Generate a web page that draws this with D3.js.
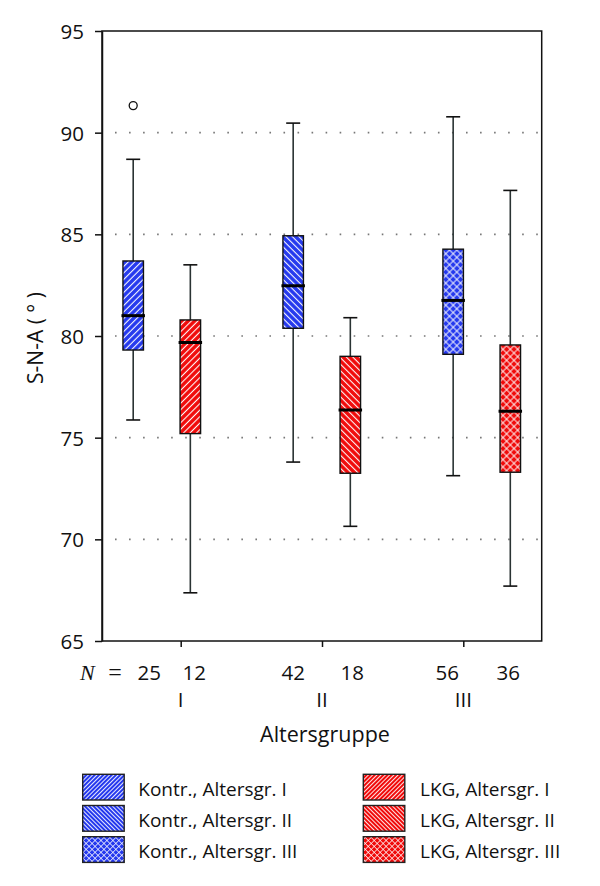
<!DOCTYPE html>
<html><head><meta charset="utf-8">
<script src="https://cdn.jsdelivr.net/npm/d3@7"></script>
<style>
body{margin:0;background:#fff}
text{font-family:"Open Sans",sans-serif;fill:#111}
</style>
</head><body>
<svg id="c" width="600" height="886"></svg>
<script>
// ---------- data ----------
const groups = ["I", "II", "III"];
const seriesNames = ["Kontr.", "LKG"];
const nKontr = [25, 42, 56];
const nLKG = [12, 18, 36];
const kontrMin = [75.87, 73.8, 73.13];
const kontrQ1 = [79.31, 80.38, 79.1];
const kontrMed = [81.0, 82.47, 81.75];
const kontrQ3 = [83.69, 84.93, 84.27];
const kontrMax = [88.69, 90.47, 90.78];
const lkgMin = [67.37, 70.64, 67.7];
const lkgQ1 = [75.2, 73.25, 73.3];
const lkgMed = [79.68, 76.36, 76.3];
const lkgQ3 = [80.79, 79.0, 79.56];
const lkgMax = [83.5, 80.9, 87.16];
const outlierSeries = ["Kontr."];
const outlierGroup = ["I"];
const outlierValue = [91.33];
const yTicks = [65, 70, 75, 80, 85, 90, 95];
const gridValues = [70, 75, 80, 85, 90];
const legendLabels = [
  ["Kontr., Altersgr. I", "Kontr., Altersgr. II", "Kontr., Altersgr. III"],
  ["LKG, Altersgr. I", "LKG, Altersgr. II", "LKG, Altersgr. III"]
];
const yTitle = "S-N-A ( \u00B0 )";
const xTitle = "Altersgruppe";

// ---------- layout ----------
const colors = {"Kontr.": "#2438ee", "LKG": "#f00a0a"};
const patternKinds = ["fwd", "back", "cross"];
const plot = {left: 102, right: 541.7, top: 31, bottom: 641};
const nLabelShift = [16, 4, 0, 2, -6, -2];

const svg = d3.select("#c");
const defs = svg.append("defs");

function makePattern(id, color, kind, sp, lw) {
  const p = defs.append("pattern").attr("id", id)
    .attr("patternUnits", "userSpaceOnUse")
    .attr("width", sp).attr("height", sp)
    .attr("patternTransform", kind === "back" ? "rotate(-45)" : "rotate(45)");
  p.append("rect").attr("width", sp).attr("height", sp).attr("fill", color);
  p.append("line").attr("x1", sp / 2).attr("x2", sp / 2).attr("y1", -1).attr("y2", sp + 1)
    .attr("stroke", "#fff").attr("stroke-width", lw);
  if (kind === "cross") {
    p.append("line").attr("y1", sp / 2).attr("y2", sp / 2).attr("x1", -1).attr("x2", sp + 1)
      .attr("stroke", "#fff").attr("stroke-width", lw);
  }
}
seriesNames.forEach((s, si) => patternKinds.forEach((k, gi) => {
  makePattern(`p${si}${gi}`, colors[s], k, k === "cross" ? 5.2 : 4.6, k === "cross" ? 0.9 : 1.1);
  makePattern(`l${si}${gi}`, colors[s], k, k === "cross" ? 4.2 : 3.0, k === "cross" ? 0.7 : 0.9);
}));

// scales
const y = d3.scaleLinear().domain([65, 95]).range([plot.bottom, plot.top]);
const xSlot = d3.scaleLinear().domain([0, 6.6]).range([133.2, 510.3]);
const slotOf = (gi, si) => gi * 2.8 + si;
const xGroup = d3.scalePoint().domain(groups).range([180.7, 463.3]);

// grid
svg.append("g").selectAll("line").data(gridValues).join("line")
  .attr("x1", plot.left).attr("x2", plot.right)
  .attr("y1", d => y(d)).attr("y2", d => y(d))
  .attr("stroke", "#777").attr("stroke-width", 1.6)
  .attr("stroke-dasharray", "1.6 12.44").attr("stroke-dashoffset", -13);

// frame
svg.append("rect").attr("x", plot.left).attr("y", plot.top)
  .attr("width", plot.right - plot.left).attr("height", plot.bottom - plot.top)
  .attr("fill", "none").attr("stroke", "#111").attr("stroke-width", 1.5);

// left axis
const yAxis = svg.append("g").attr("transform", `translate(${plot.left},0)`)
  .call(d3.axisLeft(y).tickValues(yTicks).tickSize(7).tickSizeOuter(0).tickPadding(11));
yAxis.select(".domain").attr("stroke", "#111").attr("stroke-width", 1.5);
yAxis.selectAll(".tick line").attr("stroke", "#111").attr("stroke-width", 1.5);
yAxis.selectAll(".tick text").style("font-family", "'Open Sans',sans-serif")
  .style("font-size", "20.5px").attr("fill", "#111").attr("dy", "0.36em");

// bottom group axis
const xAxis = svg.append("g").attr("transform", `translate(0,${plot.bottom})`)
  .call(d3.axisBottom(xGroup).tickSize(6).tickSizeOuter(0).tickFormat(""));
xAxis.select(".domain").remove();
xAxis.selectAll(".tick line").attr("stroke", "#111").attr("stroke-width", 1.5);

// group labels
svg.append("g").selectAll("text").data(groups).join("text")
  .attr("x", d => xGroup(d)).attr("y", 706.5)
  .attr("text-anchor", "middle").style("font-size", "20.5px").text(d => d);

// N labels
svg.append("text").attr("x", 80).attr("y", 680)
  .style("font-family", "'Liberation Serif',serif").style("font-style", "italic")
  .style("font-size", "22px").text("N");
svg.append("text").attr("x", 115).attr("y", 680).attr("text-anchor", "middle")
  .style("font-family", "'Liberation Serif',serif")
  .style("font-size", "24px").text("=");
const nRows = [];
groups.forEach((g, gi) => {
  nRows.push({n: nKontr[gi], slot: slotOf(gi, 0)});
  nRows.push({n: nLKG[gi], slot: slotOf(gi, 1)});
});
svg.append("g").selectAll("text").data(nRows).join("text")
  .attr("x", (d, i) => xSlot(d.slot) + nLabelShift[i]).attr("y", 680)
  .attr("text-anchor", "middle").style("font-size", "20.5px").text(d => d.n);

// axis titles
svg.append("text").attr("x", 325).attr("y", 742).attr("text-anchor", "middle")
  .style("font-size", "21.5px").text(xTitle);
svg.append("text").attr("transform", "translate(43,338) rotate(-90)")
  .attr("text-anchor", "middle").style("font-size", "21px").text(yTitle);

// boxes
const boxes = [];
groups.forEach((g, gi) => {
  boxes.push({si: 0, gi, min: kontrMin[gi], q1: kontrQ1[gi], med: kontrMed[gi], q3: kontrQ3[gi], max: kontrMax[gi]});
  boxes.push({si: 1, gi, min: lkgMin[gi], q1: lkgQ1[gi], med: lkgMed[gi], q3: lkgQ3[gi], max: lkgMax[gi]});
});
const bw = 20.5, cw = 14;
const bg = svg.append("g").selectAll("g").data(boxes).join("g")
  .attr("transform", d => `translate(${xSlot(slotOf(d.gi, d.si))},0)`);
bg.append("line").attr("y1", d => y(d.max)).attr("y2", d => y(d.q3))
  .attr("stroke", "#2a3333").attr("stroke-width", 1.6);
bg.append("line").attr("y1", d => y(d.q1)).attr("y2", d => y(d.min))
  .attr("stroke", "#2a3333").attr("stroke-width", 1.6);
bg.append("line").attr("x1", -cw / 2).attr("x2", cw / 2).attr("y1", d => y(d.max)).attr("y2", d => y(d.max))
  .attr("stroke", "#111").attr("stroke-width", 1.6);
bg.append("line").attr("x1", -cw / 2).attr("x2", cw / 2).attr("y1", d => y(d.min)).attr("y2", d => y(d.min))
  .attr("stroke", "#111").attr("stroke-width", 1.6);
bg.append("rect").attr("x", -bw / 2).attr("width", bw)
  .attr("y", d => y(d.q3)).attr("height", d => y(d.q1) - y(d.q3))
  .attr("fill", d => `url(#p${d.si}${d.gi})`).attr("stroke", "#111").attr("stroke-width", 1.4);
bg.append("line").attr("x1", -bw / 2 - 1.5).attr("x2", bw / 2 + 1.5)
  .attr("y1", d => y(d.med)).attr("y2", d => y(d.med))
  .attr("stroke", "#000").attr("stroke-width", 3);

// outliers
svg.append("g").selectAll("circle").data(outlierValue).join("circle")
  .attr("cx", (d, i) => xSlot(slotOf(groups.indexOf(outlierGroup[i]), seriesNames.indexOf(outlierSeries[i]))))
  .attr("cy", d => y(d)).attr("r", 4)
  .attr("fill", "#fff").attr("stroke", "#111").attr("stroke-width", 1.3);

// legend
const legX = [82.7, 363.3], legTextX = [138.3, 420];
const legRow = d3.scaleLinear().domain([0, 1]).range([774.3, 805.5]);
seriesNames.forEach((s, si) => {
  legendLabels[si].forEach((lab, gi) => {
    svg.append("rect").attr("x", legX[si]).attr("y", legRow(gi))
      .attr("width", 41.5).attr("height", 25.7)
      .attr("fill", `url(#l${si}${gi})`).attr("stroke", "#222").attr("stroke-width", 1.4);
    svg.append("text").attr("x", legTextX[si]).attr("y", legRow(gi) + 21.5)
      .style("font-size", "19px").text(lab);
  });
});
</script>
</body></html>
